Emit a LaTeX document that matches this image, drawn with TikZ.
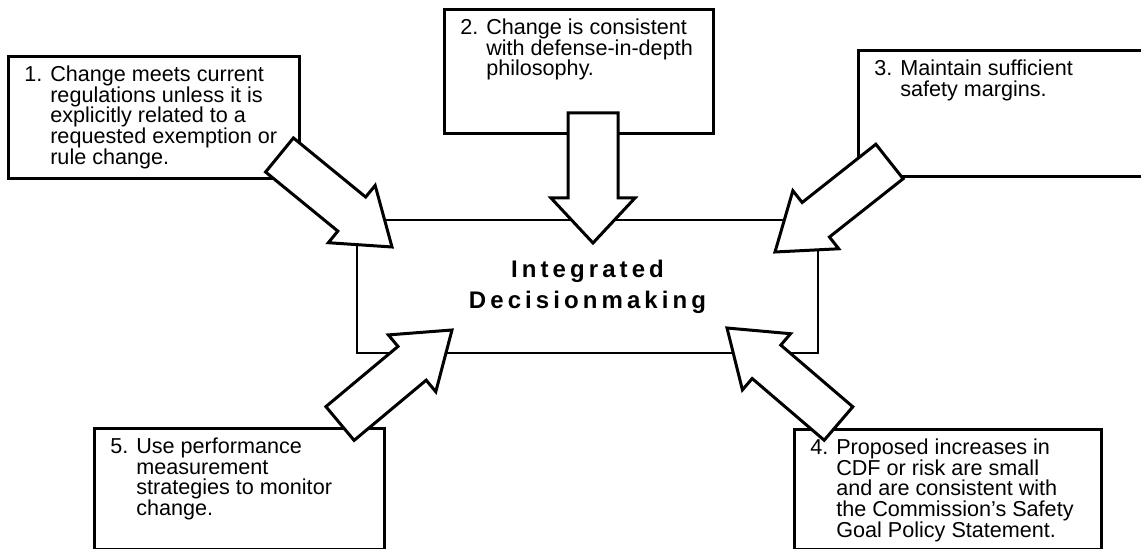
\documentclass[tikz,border=0pt]{standalone}
\usepackage{fontspec}
\setmainfont{Liberation Sans}
\newfontfamily\decfont[LetterSpace=17]{Liberation Sans}
\usetikzlibrary{calc}

\newlength{\numw}\setlength{\numw}{13pt}
% Texto del criterio con sangria francesa tras el numero
\newcommand{\critbox}[4]{\parbox[t][#2][t]{#1}{\hangindent=\numw\hangafter=1\makebox[\numw][l]{#3}#4}}
% Flecha gruesa: [medio ancho/media cabeza/largo cabeza]{cola}{punta}
\newcommand{\bigarrow}[3][11pt/18.5pt/26pt]{%
  \foreach \sw/\hw/\hl in {#1}{%
    \draw[bigarr] let \p1=($(#3)-(#2)$), \n1={atan2(\y1,\x1)} in
      ($(#2)+(\n1+90:\sw)$) -- ($(#3)+(\n1+180:\hl)+(\n1+90:\sw)$)
      -- ($(#3)+(\n1+180:\hl)+(\n1+90:\hw)$) -- (#3)
      -- ($(#3)+(\n1+180:\hl)+(\n1-90:\hw)$) -- ($(#3)+(\n1+180:\hl)+(\n1-90:\sw)$)
      -- ($(#2)+(\n1-90:\sw)$) -- cycle;}}

\tikzset{
  crit/.style={draw, line width=1.3pt, fill=white, anchor=north west,
    inner xsep=8pt, inner ysep=4.7pt, font=\fontsize{10.8}{10.4}\selectfont},
  dec/.style={draw, line width=1.2pt, minimum width=230.5pt, minimum height=66.5pt,
    inner sep=0pt, align=center, font=\decfont\bfseries\fontsize{12}{15.5}\selectfont},
  bigarr/.style={draw, line width=1.5pt, fill=white, line join=miter}
}

\begin{document}
\begin{tikzpicture}[x=0.5pt,y=-0.5pt]
  \useasboundingbox (0,0) rectangle (1141,549);

  % Caja central
  \node[dec] (dec) at (587.5,286.5) {Integrated\\Decisionmaking};

  % Los cinco criterios
  \node[crit] (c1) at (7,55) {\critbox{129.5pt}{51.6pt}{1.}{Change meets current\\regulations unless it is\\explicitly related to a\\requested exemption or\\rule change.}};
  \node[crit] (c2) at (443,8) {\critbox{118.5pt}{52.6pt}{2.}{Change is consistent\\with defense-in-depth\\philosophy.}};
  \node[crit] (c3) at (857,49) {\critbox{130.5pt}{53.6pt}{3.}{Maintain sufficient\\safety margins.}};
  \node[crit] (c4) at (793,428) {\critbox{137.5pt}{50.6pt}{4.}{Proposed increases in\\CDF or risk are small\\and are consistent with\\the Commission's Safety\\Goal Policy Statement.}};
  \node[crit] (c5) at (93,427) {\critbox{129pt}{51.1pt}{5.}{Use performance\\measurement\\strategies to monitor\\change.}};

  % Colas y puntas de las flechas
  \coordinate (t1) at (279.5,155);  \coordinate (p1) at (392,247);
  \coordinate (t2) at (593,113);    \coordinate (p2) at (593,243);
  \coordinate (t3) at (889.5,161.5); \coordinate (p3) at (775,252);
  \coordinate (t4) at (838.5,423.5); \coordinate (p4) at (727,328);
  \coordinate (t5) at (340,423.5);  \coordinate (p5) at (452,330);

  % Flechas hacia la decision
  \bigarrow{t1}{p1}
  \bigarrow[12.5pt/21pt/22.5pt]{t2}{p2}
  \bigarrow{t3}{p3}
  \bigarrow{t4}{p4}
  \bigarrow{t5}{p5}
\end{tikzpicture}
\end{document}
